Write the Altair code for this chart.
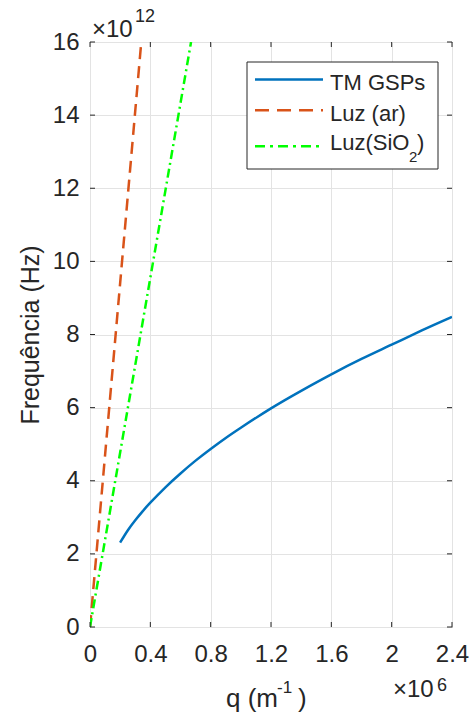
import altair as alt
import pandas as pd

# TM graphene surface plasmon dispersion: q in units of 1e6 m^-1, f in units of 1e12 Hz
q_gsp = [0.20, 0.25, 0.30, 0.35, 0.40, 0.50, 0.60, 0.70, 0.80, 0.90, 1.00, 1.20, 1.40, 1.60, 1.80, 2.00, 2.20, 2.40]
f_gsp = [2.31, 2.64, 2.92, 3.17, 3.40, 3.82, 4.20, 4.55, 4.87, 5.17, 5.45, 5.98, 6.46, 6.91, 7.33, 7.72, 8.11, 8.48]

# light lines in air and in SiO2
q_air = [0.0, 0.34]
f_air = [0.0, 16.0]
q_sio2 = [0.0, 0.67]
f_sio2 = [0.0, 16.0]

x_ticks = [0, 0.4, 0.8, 1.2, 1.6, 2, 2.4]
y_ticks = [0, 2, 4, 6, 8, 10, 12, 14, 16]

legend_labels = ["TM GSPs", "Luz (ar)", "Luz(SiO"]

FONT = "Liberation Sans"
INK = "#262626"
BLUE = "#0072BD"
RED = "#D95319"
GREEN = "#00FF00"
W, H = 362, 585

xs = alt.Scale(domain=[0, 2.4], nice=False, zero=False)
ys = alt.Scale(domain=[0, 16], nice=False, zero=False)
x_axis = alt.Axis(values=x_ticks, format="~g", title=None, grid=True,
                  ticks=False, tickSize=0, labelPadding=15, domain=False,
                  labelFlush=False, labelOverlap=False,
                  labelFont=FONT, labelFontSize=24, labelColor=INK)
y_axis = alt.Axis(values=y_ticks, format="~g", title="Frequência (Hz)", grid=True,
                  ticks=False, tickSize=0, labelPadding=11, domain=False,
                  labelFlush=False, labelOverlap=False,
                  labelFont=FONT, labelFontSize=24, labelColor=INK,
                  titleFont=FONT, titleAngle=-90, titleX=-60, titleY=H / 2,
                  titleAlign="center", titleBaseline="middle", titleFontSize=25,
                  titleFontWeight="normal", titleColor=INK)


def X():
    return alt.X("q:Q", scale=xs, axis=x_axis)


def Y():
    return alt.Y("f:Q", scale=ys, axis=y_axis)


gsp = alt.Chart(pd.DataFrame({"q": q_gsp, "f": f_gsp})).mark_line(
    color=BLUE, strokeWidth=2.5, interpolate="natural", clip=True
).encode(x=X(), y=Y())

air = alt.Chart(pd.DataFrame({"q": q_air, "f": f_air})).mark_line(
    color=RED, strokeWidth=2.5, strokeDash=[12, 7], clip=True
).encode(x=X(), y=Y())

sio2 = alt.Chart(pd.DataFrame({"q": q_sio2, "f": f_sio2})).mark_line(
    color=GREEN, strokeWidth=2.5, strokeDash=[9, 4, 2, 4], clip=True
).encode(x=X(), y=Y())

# inward tick marks on all four sides of the box
xt = pd.DataFrame({"q": x_ticks})
yt = pd.DataFrame({"f": y_ticks})
tick_style = dict(color=INK, strokeWidth=1)
ticks_bottom = alt.Chart(xt).mark_rule(**tick_style).encode(
    x=X(), y=alt.value(H), y2=alt.value(H - 5))
ticks_top = alt.Chart(xt).mark_rule(**tick_style).encode(
    x=X(), y=alt.value(0), y2=alt.value(5))
ticks_left = alt.Chart(yt).mark_rule(**tick_style).encode(
    y=Y(), x=alt.value(0), x2=alt.value(5))
ticks_right = alt.Chart(yt).mark_rule(**tick_style).encode(
    y=Y(), x=alt.value(W), x2=alt.value(W - 5))

one = pd.DataFrame({"k": [0]})


def txt(s, x, y, size=22, align="left", baseline="alphabetic"):
    return alt.Chart(one).mark_text(
        text=s, font=FONT, fontSize=size, color=INK, align=align, baseline=baseline
    ).encode(x=alt.value(x), y=alt.value(y))


# axis title and exponent annotations
x_title = [
    txt("q (m", 136, 665, size=26),
    txt("-1", 187, 651, size=17),
    txt(")", 208, 665, size=26),
]
x_exp = [txt("×10", 303, 655, size=24), txt("6", 347, 649, size=18)]
y_exp = [txt("×10", 2, -5, size=24), txt("12", 45, -20, size=18)]

# legend box
leg_box = alt.Chart(one).mark_rect(fill="white", stroke=INK, strokeWidth=1).encode(
    x=alt.value(157), x2=alt.value(348), y=alt.value(20), y2=alt.value(127))
leg_lines = [
    alt.Chart(one).mark_rule(color=BLUE, strokeWidth=2.5).encode(
        x=alt.value(165), x2=alt.value(233), y=alt.value(37.6)),
    alt.Chart(one).mark_rule(color=RED, strokeWidth=2.5, strokeDash=[14, 8]).encode(
        x=alt.value(165), x2=alt.value(233), y=alt.value(68.3)),
    alt.Chart(one).mark_rule(color=GREEN, strokeWidth=2.5, strokeDash=[10, 5, 3, 5]).encode(
        x=alt.value(165), x2=alt.value(233), y=alt.value(104.3)),
]
leg_text = [
    txt(legend_labels[0], 240, 47.6),
    txt(legend_labels[1], 240, 79.3),
    txt(legend_labels[2], 240, 108.3),
    txt("2", 319, 120, size=15),
    txt(")", 327, 108.3),
]

chart = alt.layer(
    gsp, air, sio2,
    ticks_bottom, ticks_top, ticks_left, ticks_right,
    leg_box, *leg_lines, *leg_text,
    *x_title, *x_exp, *y_exp,
).properties(
    width=W, height=H,
    background="white",
    padding={"left": 90, "top": 42, "right": 19, "bottom": 90},
    autosize=alt.AutoSizeParams(type="none"),
).configure_view(
    stroke=INK, strokeWidth=1
).configure_axis(
    labelFont=FONT, labelFontSize=24, labelColor=INK,
    titleFont=FONT, gridColor="#e3e3e3", gridWidth=1,
)

chart.save("out.html", embed_options={"renderer": "svg", "actions": False})
